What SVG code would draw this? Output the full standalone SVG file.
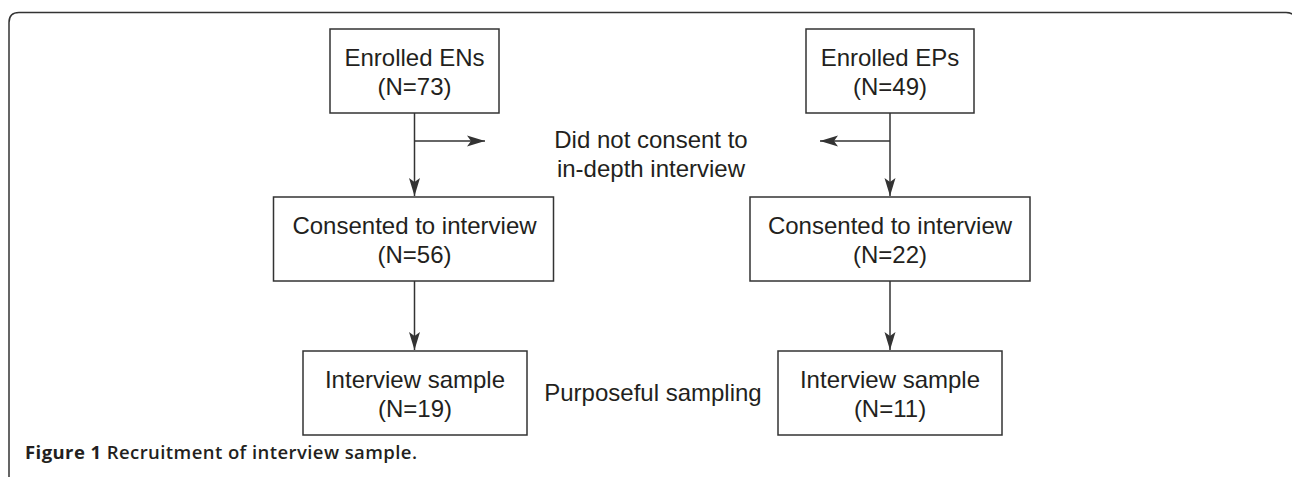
<svg xmlns="http://www.w3.org/2000/svg" width="1292" height="477" viewBox="0 0 1292 477">
<style>
  .box { fill: #ffffff; stroke: #333333; stroke-width: 1.5; }
  .lbl { font-family: "Liberation Sans", Arial, Helvetica, sans-serif; font-size: 24px; fill: #231f20; text-anchor: middle; }
  .con { fill: none; stroke: #333333; stroke-width: 1.5; }
  .frame { fill: none; stroke: #333333; stroke-width: 1.5; }
  .cap { font-family: "Open Sans", "Liberation Sans", sans-serif; font-size: 18.5px; fill: #231f20; }
</style>
<defs>
  <marker id="arr" markerUnits="userSpaceOnUse" markerWidth="20" markerHeight="14" refX="18" refY="7" orient="auto">
    <path d="M0,1.5 L18,7 L0,12.5 L4,7 Z" fill="#333333"/>
  </marker>
</defs>
<rect x="0" y="0" width="1292" height="477" fill="#ffffff"/>
<path class="frame" d="M9,477 V22.5 Q9,12.5 19,12.5 H1286 Q1296,12.5 1296,22.5 V477"/>

<g id="connectors">
  <line class="con" x1="414.5" y1="113" x2="414.5" y2="196" marker-end="url(#arr)"/>
  <line class="con" x1="414.5" y1="141" x2="485" y2="141" marker-end="url(#arr)"/>
  <line class="con" x1="890" y1="113" x2="890" y2="196" marker-end="url(#arr)"/>
  <line class="con" x1="890" y1="141" x2="820" y2="141" marker-end="url(#arr)"/>
  <line class="con" x1="414.5" y1="281" x2="414.5" y2="350" marker-end="url(#arr)"/>
  <line class="con" x1="890" y1="281" x2="890" y2="350" marker-end="url(#arr)"/>
</g>

<g id="enrolled-ens">
  <rect class="box" x="330" y="29" width="169" height="84"/>
  <text class="lbl" x="414.5" y="66">Enrolled ENs</text>
  <text class="lbl" x="414.5" y="95">(N=73)</text>
</g>
<g id="enrolled-eps">
  <rect class="box" x="806" y="29" width="168" height="84"/>
  <text class="lbl" x="890" y="66">Enrolled EPs</text>
  <text class="lbl" x="890" y="95">(N=49)</text>
</g>
<g id="no-consent">
  <text class="lbl" x="651" y="148">Did not consent to</text>
  <text class="lbl" x="651" y="177">in-depth interview</text>
</g>
<g id="consented-ens">
  <rect class="box" x="273.5" y="197" width="280" height="84"/>
  <text class="lbl" x="414.5" y="234">Consented to interview</text>
  <text class="lbl" x="414.5" y="263">(N=56)</text>
</g>
<g id="consented-eps">
  <rect class="box" x="750" y="197" width="280" height="84"/>
  <text class="lbl" x="890" y="234">Consented to interview</text>
  <text class="lbl" x="890" y="263">(N=22)</text>
</g>
<g id="sample-ens">
  <rect class="box" x="303" y="351" width="224" height="84"/>
  <text class="lbl" x="415" y="388">Interview sample</text>
  <text class="lbl" x="415" y="417">(N=19)</text>
</g>
<g id="purposeful">
  <text class="lbl" x="653" y="401">Purposeful sampling</text>
</g>
<g id="sample-eps">
  <rect class="box" x="778" y="351" width="224" height="84"/>
  <text class="lbl" x="890" y="388">Interview sample</text>
  <text class="lbl" x="890" y="417">(N=11)</text>
</g>
<text class="cap" x="25" y="459" textLength="392" lengthAdjust="spacing"><tspan font-weight="700">Figure 1</tspan><tspan font-weight="600"> Recruitment of interview sample.</tspan></text>
</svg>
